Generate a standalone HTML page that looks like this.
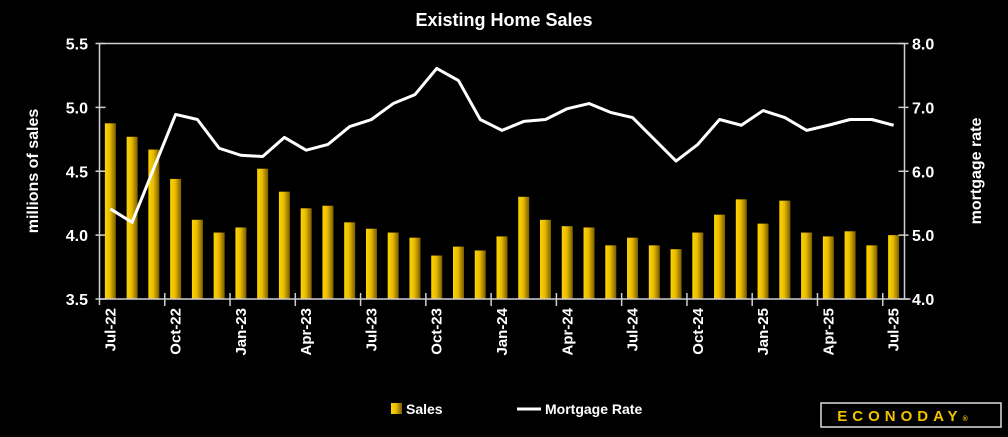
<!DOCTYPE html>
<html><head><meta charset="utf-8"><style>
html,body{margin:0;padding:0;background:#000;}
svg text{font-family:"Liberation Sans",sans-serif;font-weight:bold;fill:#fff;}
</style></head><body>
<svg id="chart" width="1008" height="432" xmlns="http://www.w3.org/2000/svg">
<defs>
<linearGradient id="barGrad" x1="0" x2="1" y1="0" y2="0">
<stop offset="0" stop-color="#ffd400"/><stop offset="0.45" stop-color="#e8bb00"/><stop offset="1" stop-color="#7a5c00"/>
</linearGradient>
</defs>
<text x="504" y="26" text-anchor="middle" font-size="18">Existing Home Sales</text>
<g id="plot"></g>
<text transform="translate(38,171) rotate(-90)" text-anchor="middle" font-size="16">millions of sales</text>
<text transform="translate(981,171) rotate(-90)" text-anchor="middle" font-size="16">mortgage rate</text>
<g>
<rect x="391" y="403" width="11" height="11" fill="url(#barGrad)"/>
<text x="406" y="414" font-size="14">Sales</text>
<line x1="517" y1="409" x2="541" y2="409" stroke="#fff" stroke-width="3"/>
<text x="545" y="414" font-size="14">Mortgage Rate</text>
</g>
<g>
<rect x="821" y="403" width="180" height="24" fill="none" stroke="#ddd" stroke-width="1.5"/>
<text x="905" y="421" text-anchor="middle" font-size="15" letter-spacing="5" style="fill:#f2c200">ECONODAY<tspan font-size="7">®</tspan></text>
</g>
</svg>
<script>
const months = ["Jul-22","Aug-22","Sep-22","Oct-22","Nov-22","Dec-22","Jan-23","Feb-23","Mar-23","Apr-23","May-23","Jun-23","Jul-23","Aug-23","Sep-23","Oct-23","Nov-23","Dec-23","Jan-24","Feb-24","Mar-24","Apr-24","May-24","Jun-24","Jul-24","Aug-24","Sep-24","Oct-24","Nov-24","Dec-24","Jan-25","Feb-25","Mar-25","Apr-25","May-25","Jun-25","Jul-25"];
const sales = [4.875,4.77,4.67,4.44,4.12,4.02,4.06,4.52,4.34,4.21,4.23,4.10,4.05,4.02,3.98,3.84,3.91,3.88,3.99,4.30,4.12,4.07,4.06,3.92,3.98,3.92,3.89,4.02,4.16,4.28,4.09,4.27,4.02,3.99,4.03,3.92,4.00];
const mortgage = [5.41,5.20,6.05,6.89,6.81,6.36,6.25,6.23,6.53,6.33,6.42,6.70,6.81,7.06,7.20,7.61,7.42,6.81,6.64,6.78,6.81,6.98,7.06,6.92,6.84,6.50,6.16,6.42,6.81,6.72,6.95,6.84,6.64,6.72,6.81,6.81,6.72];
const leftTicks = [3.5,4.0,4.5,5.0,5.5];
const rightTicks = [4.0,5.0,6.0,7.0,8.0];

const NS="http://www.w3.org/2000/svg";
const X0=99.5, X1=904.5, YT=43.5, YB=299;
const band=(X1-X0)/months.length;
const xC=i=>X0+band*(i+0.5);
const yL=v=>YB-(v-3.5)/2*(YB-YT);
const yR=v=>YB-(v-4)/4*(YB-YT);
const g=document.getElementById('plot');
function mk(t,a){const e=document.createElementNS(NS,t);for(const k in a)e.setAttribute(k,a[k]);g.appendChild(e);return e;}

sales.forEach((v,i)=>{
 const r=mk('rect',{x:xC(i)-5.5,y:yL(v),width:11,height:YB-yL(v),fill:'url(#barGrad)'});
 
 
});
const ax={stroke:'#cfcfcf','stroke-width':1.5};
let l=mk('line',Object.assign({x1:X0,y1:YT,x2:X1,y2:YT},ax));

l=mk('line',Object.assign({x1:X0,y1:YT,x2:X0,y2:YB+6},ax));

l=mk('line',Object.assign({x1:X1,y1:YT,x2:X1,y2:YB},ax));

l=mk('line',Object.assign({x1:X0,y1:YB,x2:X1+6,y2:YB},ax));


leftTicks.forEach(v=>{
 mk('line',Object.assign({x1:X0-4,y1:yL(v),x2:X0+6,y2:yL(v)},ax));
 const t=mk('text',{x:88,y:yL(v)+6,'text-anchor':'end','font-size':16});
 t.textContent=v.toFixed(1);
 
 
});
rightTicks.forEach(v=>{
 mk('line',Object.assign({x1:X1-6,y1:yR(v),x2:X1+4,y2:yR(v)},ax));
 const t=mk('text',{x:912,y:yR(v)+6,'text-anchor':'start','font-size':16});
 t.textContent=v.toFixed(1);
 
 
});
months.forEach((m,i)=>{
 if(i%3===0 && i>0) mk('line',Object.assign({x1:X0+band*i,y1:YB-6,x2:X0+band*i,y2:YB+7},ax));
 if(i%3===0){
  const t=mk('text',{transform:`translate(${xC(i)+5},308) rotate(-90)`,'text-anchor':'end','font-size':15});
  t.textContent=m;
  
  
 }
});
const pl=mk('polyline',{points:mortgage.map((v,i)=>xC(i)+','+yR(v)).join(' '),fill:'none',stroke:'#fff','stroke-width':3,'stroke-linejoin':'round'});


</script>
</body></html>
